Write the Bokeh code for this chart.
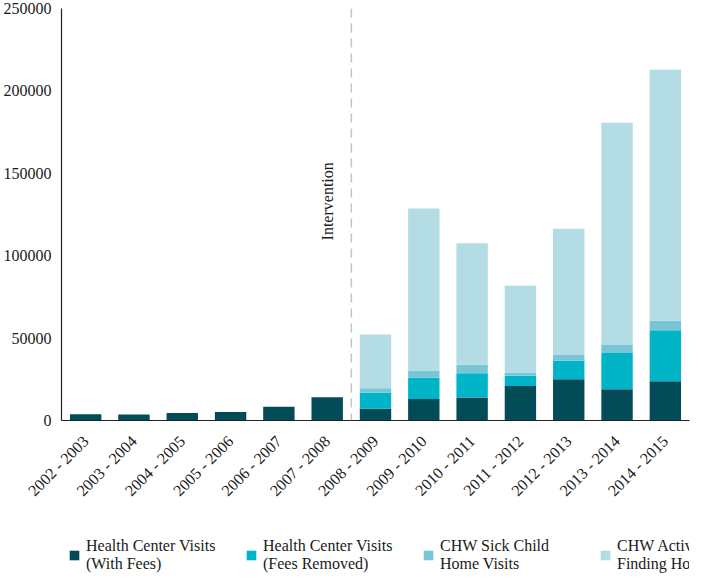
import math
from bokeh.plotting import figure
from bokeh.layouts import column
from bokeh.models import (ColumnDataSource, Span, Label, Legend, LegendItem,
                          NumeralTickFormatter, Range1d, FixedTicker)
from bokeh.embed import file_html
from bokeh.resources import INLINE

years = ["2002 - 2003", "2003 - 2004", "2004 - 2005", "2005 - 2006", "2006 - 2007",
         "2007 - 2008", "2008 - 2009", "2009 - 2010", "2010 - 2011", "2011 - 2012",
         "2012 - 2013", "2013 - 2014", "2014 - 2015"]
with_fees = [3800, 3700, 4600, 5200, 8300, 14100, 7100, 13100, 13900, 21000, 25000, 18900, 23800]
fees_removed = [0, 0, 0, 0, 0, 0, 9800, 12900, 14700, 6200, 11300, 22100, 30900]
sick_child = [0, 0, 0, 0, 0, 0, 2600, 4300, 5300, 2000, 3400, 4800, 5800]
active_case = [0, 0, 0, 0, 0, 0, 32700, 98400, 73600, 52500, 76600, 134900, 152300]
y_ticks = [0, 50000, 100000, 150000, 200000, 250000]
labels = ["Health Center Visits\n(With Fees)", "Health Center Visits\n(Fees Removed)",
          "CHW Sick Child\nHome Visits", "CHW Active Case\nFinding Home Visits"]
intervention_at = 6  # boundary between 2007-2008 and 2008-2009
intervention_label_y = 133000

colors = ["#044B58", "#00B4C8", "#78C6D5", "#B3DCE4"]
keys = ["with_fees", "fees_removed", "sick_child", "active_case"]

src = ColumnDataSource(dict(year=years, with_fees=with_fees, fees_removed=fees_removed,
                            sick_child=sick_child, active_case=active_case))

FONT = "Liberation Serif"
TXT = "#1a1a1a"

p = figure(x_range=years, y_range=Range1d(0, 250000), width=691, height=536,
           output_backend="svg", toolbar_location=None,
           min_border_left=52, min_border_right=2, min_border_top=8, min_border_bottom=116)
p.outline_line_color = None
p.xgrid.grid_line_color = None
p.ygrid.grid_line_color = None

rs = p.vbar_stack(keys, x="year", width=0.65, color=colors, line_color=None, source=src)

p.add_layout(Span(location=intervention_at, dimension="height", line_color="#c4c4c4",
                  line_dash="9 6", line_width=1.5))
p.add_layout(Label(x=5.5, y=intervention_label_y, text="Intervention", angle=math.pi / 2,
                   text_align="center", text_baseline="middle", text_font=FONT,
                   text_font_size="16px", text_color=TXT))

for ax in (p.xaxis[0], p.yaxis[0]):
    ax.axis_line_color = "#222222"
    ax.axis_line_width = 1.2
    ax.major_tick_line_color = None
    ax.minor_tick_line_color = None
    ax.major_tick_out = 0
    ax.major_tick_in = 0
    ax.major_label_text_font = FONT
    ax.major_label_text_font_size = "16px"
    ax.major_label_text_color = TXT

p.yaxis.ticker = FixedTicker(ticks=y_ticks)
p.yaxis.formatter = NumeralTickFormatter(format="0")
p.yaxis.major_label_standoff = 10
p.xaxis.major_label_orientation = math.pi / 4
p.xaxis.major_label_standoff = 18

# legend strip: a second figure holding hidden copies of the series for the legend keys
p2 = figure(x_range=p.x_range, y_range=Range1d(0, 1), width=691, height=40,
            x_axis_type=None, y_axis_type=None, output_backend="svg",
            toolbar_location=None, min_border=0)
p2.outline_line_color = None
rs2 = p2.vbar_stack(keys, x="year", width=0.65, color=colors, line_color=None, source=src)
for r in rs2:
    r.visible = False

legend = Legend(items=[LegendItem(label=l, renderers=[r]) for l, r in zip(labels, rs2)],
                orientation="horizontal", location=(7, 3),
                glyph_width=12, glyph_height=12, label_width=145, spacing=14,
                label_standoff=6, label_text_font=FONT, label_text_font_size="16px",
                label_text_line_height=1.15,
                label_text_color=TXT, border_line_color=None, background_fill_alpha=0,
                inactive_fill_alpha=0, padding=0, margin=0)
p2.add_layout(legend, "center")

layout = column(p, p2, spacing=0)
open("out.html", "w").write(file_html(layout, INLINE))
